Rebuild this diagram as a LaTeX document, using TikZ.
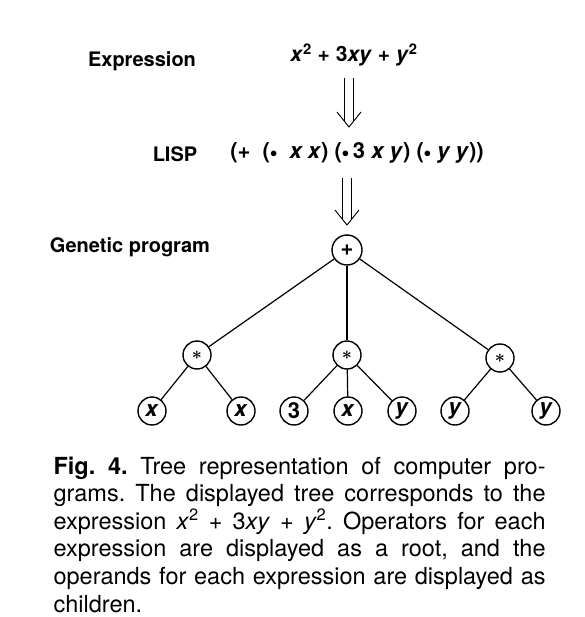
\documentclass[tikz,border=0pt]{standalone}
\usepackage{amsmath}
\usepackage{fontspec}
\setmainfont{TeX Gyre Heros}

\tikzset{
  lbl/.style={font=\fontsize{20}{24}\selectfont\bfseries, inner sep=0pt, anchor=base},
  formula/.style={font=\fontsize{21}{25}\selectfont\bfseries, inner sep=0pt, anchor=base},
  dbl/.style={double, double distance=8.5pt, line width=0.9pt, shorten >=6pt},
  vhead/.style={line width=0.9pt},
}
\newcommand{\mulop}{\raisebox{1.5pt}{\scalebox{0.7}{$\bullet$}}}
\newcommand{\opstar}{\scalebox{0.85}{$\boldsymbol{\ast}$}}

\begin{document}
\begin{tikzpicture}[x=1pt, y=-1pt, line width=1.2pt]
    \useasboundingbox (0,0) rectangle (584,617);
    % left column labels
    \node[lbl](exprlbl) at (142,67) {Expression};
    \node[lbl](lisplbl) at (175,162) {LISP};
    \node[lbl](gplbl) at (130,252) {Genetic program};
    % the three forms
    \node[formula](poly) at (354,62) {\textit{x}\textsuperscript{2} + 3\textit{xy} + \textit{y}\textsuperscript{2}};
    \node[formula, font=\fontsize{22}{26}\selectfont\bfseries](lisp) at (357,159)
      {(+\ \ (\mulop\ \ \textit{x x}) (\mulop\,3 \textit{x y}) (\mulop\ \textit{y y}))};
    \coordinate (tip1) at (349,127);
    \coordinate (tip2) at (347,225);
    \draw[dbl] (349,78) -- (tip1);
    \draw[vhead] (tip1) ++(-12,-15) -- (tip1) -- ++(12,-15);
    \draw[dbl] (347,178) -- (tip2);
    \draw[vhead] (tip2) ++(-12,-15) -- (tip2) -- ++(12,-15);
    \begin{scope}[every node/.style={circle,draw,line width=1.4pt,inner sep=0pt,minimum size=28pt,font=\fontsize{22}{26}\selectfont\bfseries}]
        \node[minimum size=30pt](r) at (347,250) {+};
        \node(m1) at (197,355) {\opstar};
        \node(m2) at (347,355) {\opstar};
        \node(m3) at (500,358) {\opstar};
        \node(a1) at (152,411) {\textit{x}};
        \node(a2) at (241,411) {\textit{x}};
        \node(b1) at (294,411) {3};
        \node(b2) at (348,411) {\textit{x}};
        \node(b3) at (402,411) {\textit{y}};
        \node(c1) at (455,411) {\textit{y}};
        \node(c2) at (546,411) {\textit{y}};
    \end{scope}
    \draw (r) -- (m1);
    \draw (r) -- (m2);
    \draw (r) -- (m3);
    \draw (m1) -- (a1);
    \draw (m1) -- (a2);
    \draw (m2) -- (b1);
    \draw (m2) -- (b2);
    \draw (m2) -- (b3);
    \draw (m3) -- (c1);
    \draw (m3) -- (c2);
    % caption
    \node[anchor=north west, inner sep=0pt, text width=492pt, align=justify,
          font=\fontsize{23.5}{27.6}\selectfont\frenchspacing](cap) at (53,456)
      {\textbf{Fig. 4.} Tree representation of computer pro-\linebreak
       grams. The displayed tree corresponds to the\linebreak
       expression \textit{x}\textsuperscript{2} + 3\textit{xy} + \textit{y}\textsuperscript{2}. Operators for each\linebreak
       expression are displayed as a root, and the\linebreak
       operands for each expression are displayed as\linebreak
       children.};
\end{tikzpicture}
\end{document}
